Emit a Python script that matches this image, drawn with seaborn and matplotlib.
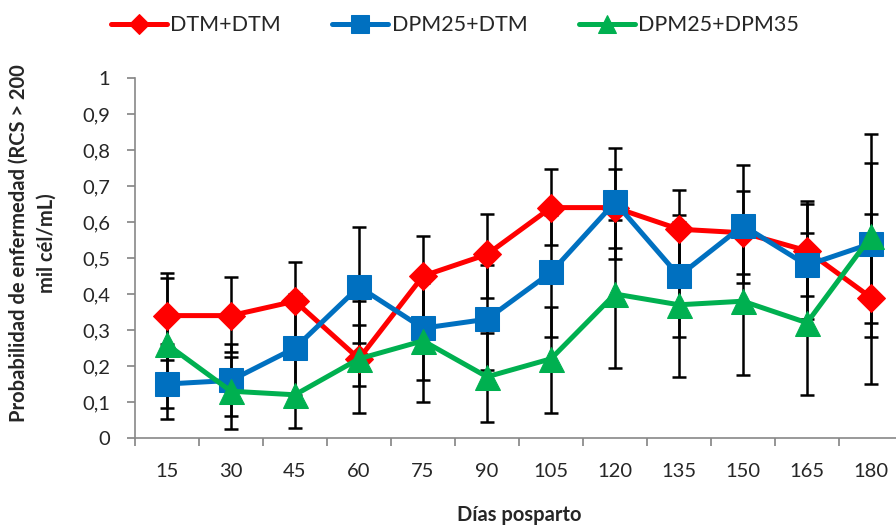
import matplotlib
matplotlib.use("Agg")
import matplotlib.pyplot as plt
import seaborn as sns
import numpy as np
import pandas as pd

days = ["15", "30", "45", "60", "75", "90", "105", "120", "135", "150", "165", "180"]
series_names = ["DTM+DTM", "DPM25+DTM", "DPM25+DPM35"]

dtm_dtm = [0.34, 0.34, 0.38, 0.22, 0.45, 0.51, 0.64, 0.64, 0.58, 0.57, 0.52, 0.39]
dtm_dtm_lo = [0.217, 0.24, 0.27, 0.07, 0.33, 0.39, 0.536, 0.496, 0.46, 0.455, 0.394, 0.15]
dtm_dtm_hi = [0.459, 0.447, 0.49, 0.381, 0.562, 0.621, 0.746, 0.746, 0.689, 0.686, 0.657, 0.621]

dpm25_dtm = [0.15, 0.16, 0.25, 0.42, 0.305, 0.33, 0.46, 0.655, 0.45, 0.59, 0.48, 0.54]
dpm25_dtm_lo = [0.052, 0.061, 0.12, 0.264, 0.161, 0.19, 0.281, 0.529, 0.281, 0.43, 0.33, 0.28]
dpm25_dtm_hi = [0.26, 0.261, 0.40, 0.585, 0.45, 0.481, 0.62, 0.805, 0.619, 0.758, 0.65, 0.844]

dpm25_dpm35 = [0.26, 0.13, 0.12, 0.22, 0.27, 0.17, 0.22, 0.40, 0.37, 0.38, 0.32, 0.56]
dpm25_dpm35_lo = [0.084, 0.026, 0.027, 0.145, 0.101, 0.044, 0.069, 0.194, 0.169, 0.175, 0.119, 0.319]
dpm25_dpm35_hi = [0.444, 0.226, 0.25, 0.314, 0.43, 0.293, 0.365, 0.606, 0.60, 0.60, 0.57, 0.765]

colors = ["#FF0000", "#0070C0", "#00B050"]
markers = ["D", "s", "^"]
msizes = [14, 17, 18]

sns.set_theme(style="white")
plt.rcParams['font.family'] = ['Lato', 'DejaVu Sans']

fig = plt.figure(figsize=(8.96, 5.26), dpi=100)
ax = fig.add_axes([135/896, 88/526, 768/896, 360/526])

x = np.arange(len(days))
all_vals = [dtm_dtm, dpm25_dtm, dpm25_dpm35]
all_lo = [dtm_dtm_lo, dpm25_dtm_lo, dpm25_dpm35_lo]
all_hi = [dtm_dtm_hi, dpm25_dtm_hi, dpm25_dpm35_hi]

for vals, lo, hi in zip(all_vals, all_lo, all_hi):
    v = np.array(vals); l = np.array(lo); h = np.array(hi)
    ax.errorbar(x, v, yerr=[v - l, h - v], fmt="none", ecolor="black",
                elinewidth=1.8, capsize=5, capthick=1.8, zorder=2)

for name, vals, c, m, ms in zip(series_names, all_vals, colors, markers, msizes):
    df = pd.DataFrame({"x": x, "y": vals})
    sns.lineplot(data=df, x="x", y="y", ax=ax, color=c, linewidth=3.6,
                 marker=m, markersize=ms, markeredgecolor=c, label=name, zorder=3)

ax.set_xlim(-0.5, 11.5)
ax.set_ylim(0, 1)
ax.set_xticks(np.arange(-0.5, 12, 1))
ax.set_xticklabels([])
ax.set_xticks(x, minor=True)
ax.set_xticklabels(days, minor=True)
ax.tick_params(axis="x", which="minor", length=0, pad=18, labelsize=14.5)
ax.tick_params(axis="x", which="major", length=6, color="#888888", direction="out")
yt = np.round(np.arange(0, 1.01, 0.1), 1)
ax.set_yticks(yt)
ax.set_yticklabels([("%g" % t).replace(".", ",") for t in yt], fontsize=14.5)
ax.tick_params(axis="y", length=6, color="#888888", direction="out", pad=12)
ax.tick_params(bottom=True, left=True)

for s in ["top", "right"]:
    ax.spines[s].set_visible(False)
for s in ["left", "bottom"]:
    ax.spines[s].set_color("#888888")
    ax.spines[s].set_linewidth(1.2)

ax.set_xlabel("Días posparto", fontsize=14.5, fontweight="bold", labelpad=18)
ax.set_ylabel("Probabilidad de enfermedad (RCS > 200\nmil cél/mL)", fontsize=14.5,
              fontweight="bold", linespacing=1.5)
ax.yaxis.set_label_coords(-0.102, 0.54)

handles, labels = ax.get_legend_handles_labels()
ax.legend(handles, labels, loc="upper center", bbox_to_anchor=(455/896, 1.0),
          bbox_transform=fig.transFigure, ncol=3, frameon=False, fontsize=15.5,
          handlelength=2.6, columnspacing=2.4, handletextpad=0.15, markerscale=0.75,
          borderaxespad=0.3)

fig.savefig("out.png", dpi=100)
